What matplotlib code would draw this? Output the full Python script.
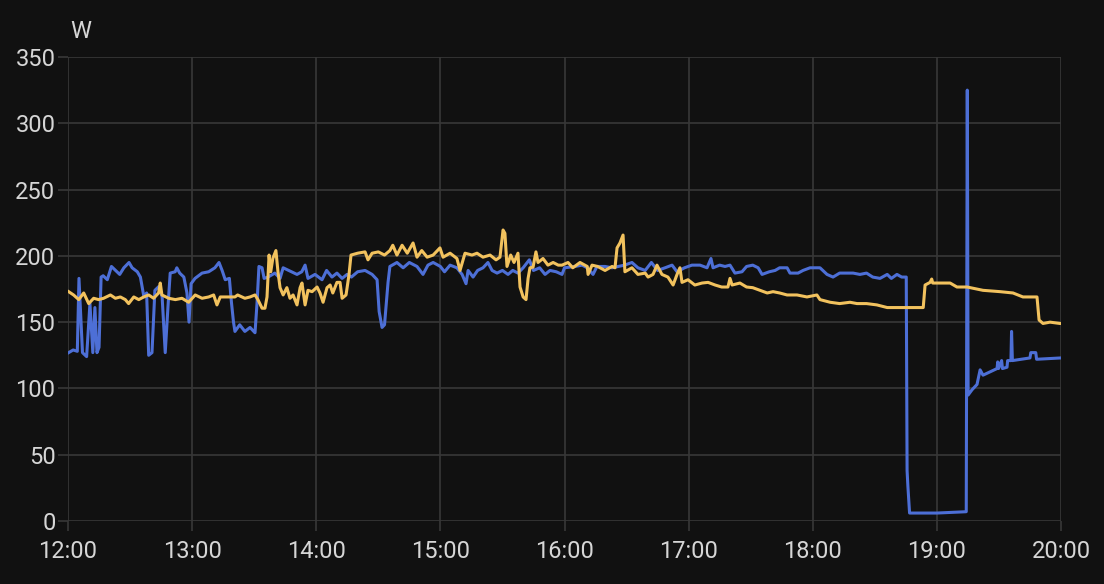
import matplotlib
matplotlib.use("Agg")
from matplotlib import pyplot as plt

# minutes after 12:00 and power in W
blue_t = [0.3, 2.5, 4.5, 5.3, 7, 9, 10.6, 12, 13, 14, 15, 16, 17, 19, 21, 23, 25, 27, 29.5, 31,
          33.5, 35, 36.7, 38, 39, 40.6, 42, 44, 45.5, 47, 48.3, 49.4, 51.8, 52.6, 54, 56, 57.5,
          58.5, 59.5, 61.4, 64.8, 68, 71, 73, 74.5, 76, 78, 79, 80, 80.7, 83, 85.5, 88, 90.4,
          91.4, 92.3, 93.8, 94.8, 96.7, 100, 102.5, 104, 108, 110.7, 113, 114.6, 116, 119.4,
          122.8, 125, 127.6, 130, 132.5, 134.9, 137, 140, 143.6, 147, 149.4, 150.4, 151.8, 153,
          154.7, 155.6, 159, 162, 165, 168.7, 171.6, 174, 176.5, 180, 182, 184.7, 188, 190.5,
          192.4, 193.4, 195.8, 198, 200.6, 203, 205, 207.4, 210, 212.7, 215, 217.5, 220, 223,
          225, 228, 230.6, 233, 236, 238.8, 240, 245, 248.5, 251, 253.8, 255.7, 259.6, 263, 266,
          269, 272.6, 275.5, 279, 282, 285, 288.6, 292, 294.4, 298, 301.6, 305.5, 308.9, 310.8,
          311.8, 315, 317.6, 320, 322.4, 325.8, 328, 331, 333.6, 335.5, 339, 341.8, 344, 347.6,
          349, 352.9, 355.3, 358.7, 363.5, 366.9, 369.8, 373, 376.6, 379.5, 382.8, 386, 389,
          392.5, 396, 398, 400.7, 403, 405.2, 405.6, 406, 406.8, 420, 434.2, 434.7, 435.1, 437,
          439.4, 440.9, 442.3, 449.1, 449.4, 449.8, 451.3, 451.7, 453.9, 454.2, 455.8, 456.1,
          456.5, 465, 465.4, 467.8, 468.2, 479.5, 480]
blue_w = [127, 129, 128, 183, 127, 124, 164, 127, 161, 127, 131, 184, 185, 182, 192, 189, 186, 191,
          195, 191, 188, 184, 169, 172, 125, 127, 174, 177, 169, 127, 161, 187, 188, 191, 187, 184,
          172, 150, 179, 183, 187, 188, 191, 195, 189, 182, 183, 165, 150, 143, 148, 143, 146, 142,
          165, 192, 191, 183, 184, 187, 183, 191, 188, 186, 188, 193, 183, 186, 182, 189, 184, 187,
          183, 186, 184, 188, 189, 186, 182, 158, 146, 148, 180, 192, 195, 191, 195, 192, 186, 193,
          195, 192, 188, 193, 191, 186, 179, 189, 184, 189, 191, 195, 189, 187, 189, 186, 189, 187,
          191, 197, 189, 191, 186, 189, 188, 186, 191, 192, 193, 191, 186, 192, 192, 191, 192, 193,
          195, 191, 189, 195, 189, 191, 193, 188, 191, 193, 193, 191, 198, 191, 193, 192, 193, 187,
          188, 192, 193, 191, 186, 188, 189, 191, 191, 187, 187, 189, 191, 191, 186, 184, 187, 187,
          187, 186, 187, 184, 183, 186, 183, 186, 184, 184, 38, 26, 6, 6, 7, 325, 95, 99, 103, 114,
          110, 115, 120, 115, 121, 115, 116, 121, 121, 143, 121, 123, 127, 127, 122, 123, 123]

yellow_t = [0.3, 2.7, 5.2, 7.6, 10, 12.4, 14.8, 17.2, 20.5, 22.9, 25.3, 27.7, 29.3, 31.8, 34.2,
            36.6, 39, 41.4, 43.8, 44.6, 45.4, 48.7, 51.9, 55.1, 58.3, 61.5, 64.8, 68, 70.4, 72,
            73.6, 76, 80.7, 82, 85.5, 88, 90.4, 91.8, 93.8, 95.2, 96.2, 97.2, 98, 99, 100.5,
            101.5, 102.5, 104, 105.8, 107.3, 108.8, 110.7, 112.2, 113.1, 114.6, 116, 118, 120.4,
            121.8, 123.3, 125.2, 126.7, 128, 130, 131.5, 132.5, 134.4, 135.8, 136.8, 140, 143.6,
            145, 147, 150, 153, 155.6, 157, 159, 161.5, 164, 166.8, 168.7, 171, 173.6, 176.5,
            179.8, 181.3, 184.7, 188, 189.5, 191.9, 195.3, 197.7, 200.6, 204, 206.9, 208.8, 210.3,
            211.2, 212.2, 214, 215.6, 217.5, 218.5, 220, 221.4, 222.4, 223.3, 224.8, 226.2, 227.2,
            229.6, 232, 234.5, 237, 238.8, 241.7, 244, 247.5, 251, 251.4, 253.3, 256, 259.6, 263,
            264.4, 265.4, 266.8, 268.3, 269.2, 272.6, 275.5, 279, 280.4, 282.8, 284.7, 287.1, 290,
            292.5, 294.4, 295.8, 296.8, 299.7, 303, 306.5, 309.4, 312.8, 316, 319, 320, 321,
            324.8, 328, 331, 334.5, 338, 340.8, 344, 347.6, 352.4, 357.2, 362, 363.5, 368.4, 373,
            378, 381.4, 386, 391, 396, 402, 408.5, 413.4, 414.3, 416.7, 417.5, 418, 426.4, 429.7,
            434.6, 442.3, 450.5, 456.8, 461.6, 468.4, 469.4, 471.3, 474.7, 479.5, 480]
yellow_w = [173, 170.5, 167, 172, 164, 168, 167, 168, 170.5, 168, 169, 167, 164, 169, 167, 169,
            170.5, 168, 172, 179.5, 170.5, 168, 167, 168, 165, 170.5, 168, 169, 170.5, 163, 169,
            169, 169, 170.5, 168, 169, 170.5, 167, 160.5, 160.5, 169, 200.6, 188, 198, 204, 188,
            176, 170.5, 176, 168, 170.5, 163, 176, 179.5, 163, 174, 173, 176.5, 172, 165, 176, 178,
            172, 180, 180, 168, 170.5, 185.5, 200.6, 202, 203, 197, 202, 203, 200.6, 204, 208,
            200.6, 208, 202, 209.7, 199, 204, 199, 200.6, 206, 199, 202, 198, 189, 202, 200.6, 202,
            199, 200.6, 197, 199, 219.5, 217, 192, 200.6, 195, 202, 176.5, 169, 167, 183, 191,
            191.5, 203, 195, 198, 193, 195, 193, 193, 195, 191, 195, 192, 186, 193, 192, 189, 192,
            191, 206, 209.7, 215.7, 188, 191, 186, 187, 184, 186, 193, 186, 184, 178, 186, 191,
            180, 182, 178, 179.5, 180, 178, 176.5, 176.5, 183, 178, 179.5, 176.5, 176, 174, 172,
            173, 172, 170.5, 170.5, 169, 170.5, 167, 165, 164, 165, 164, 164, 163, 161, 161, 161,
            161, 178, 180, 182.5, 179.5, 179.5, 176.5, 176.5, 174, 173, 172, 169, 169, 151.6, 149,
            150, 149, 149]

hour_ticks = [0, 60, 120, 180, 240, 300, 360, 420, 480]
hour_labels = ["12:00", "13:00", "14:00", "15:00", "16:00", "17:00", "18:00", "19:00", "20:00"]
y_ticks = [0, 50, 100, 150, 200, 250, 300, 350]

bg = "#111111"
grid_col = "#383838"
text_col = "#d6d6d6"

plt.rcParams['font.family'] = ['Roboto', 'DejaVu Sans']

fig = plt.figure(figsize=(11.04, 5.84), dpi=100, facecolor=bg)
ax = fig.add_axes([68 / 1104, 63 / 584, 993 / 1104, 464 / 584])
ax.set_facecolor(bg)

ax.plot(blue_t, blue_w, color="#4d6fd6", lw=2.2, solid_joinstyle="round", zorder=3)
ax.plot(yellow_t, yellow_w, color="#f2c25e", lw=2.2, solid_joinstyle="round", zorder=4)

ax.set_xlim(0, 480)
ax.set_ylim(0, 350)
ax.set_xticks(hour_ticks)
ax.set_xticklabels(hour_labels)
ax.set_yticks(y_ticks)

ax.grid(True, color=grid_col, lw=1.2)
ax.set_axisbelow(True)
for s in ax.spines.values():
    s.set_visible(False)
ax.tick_params(axis="both", colors=grid_col, labelcolor=text_col, labelsize=17,
               length=7, width=1.2)
ax.tick_params(axis="y", pad=2)
ax.tick_params(axis="x", pad=7)

fig.text(70 / 1104, 1 - 32 / 584, "W", color=text_col, fontsize=17, ha="left", va="center")

fig.savefig("out.png", dpi=100, facecolor=bg)
